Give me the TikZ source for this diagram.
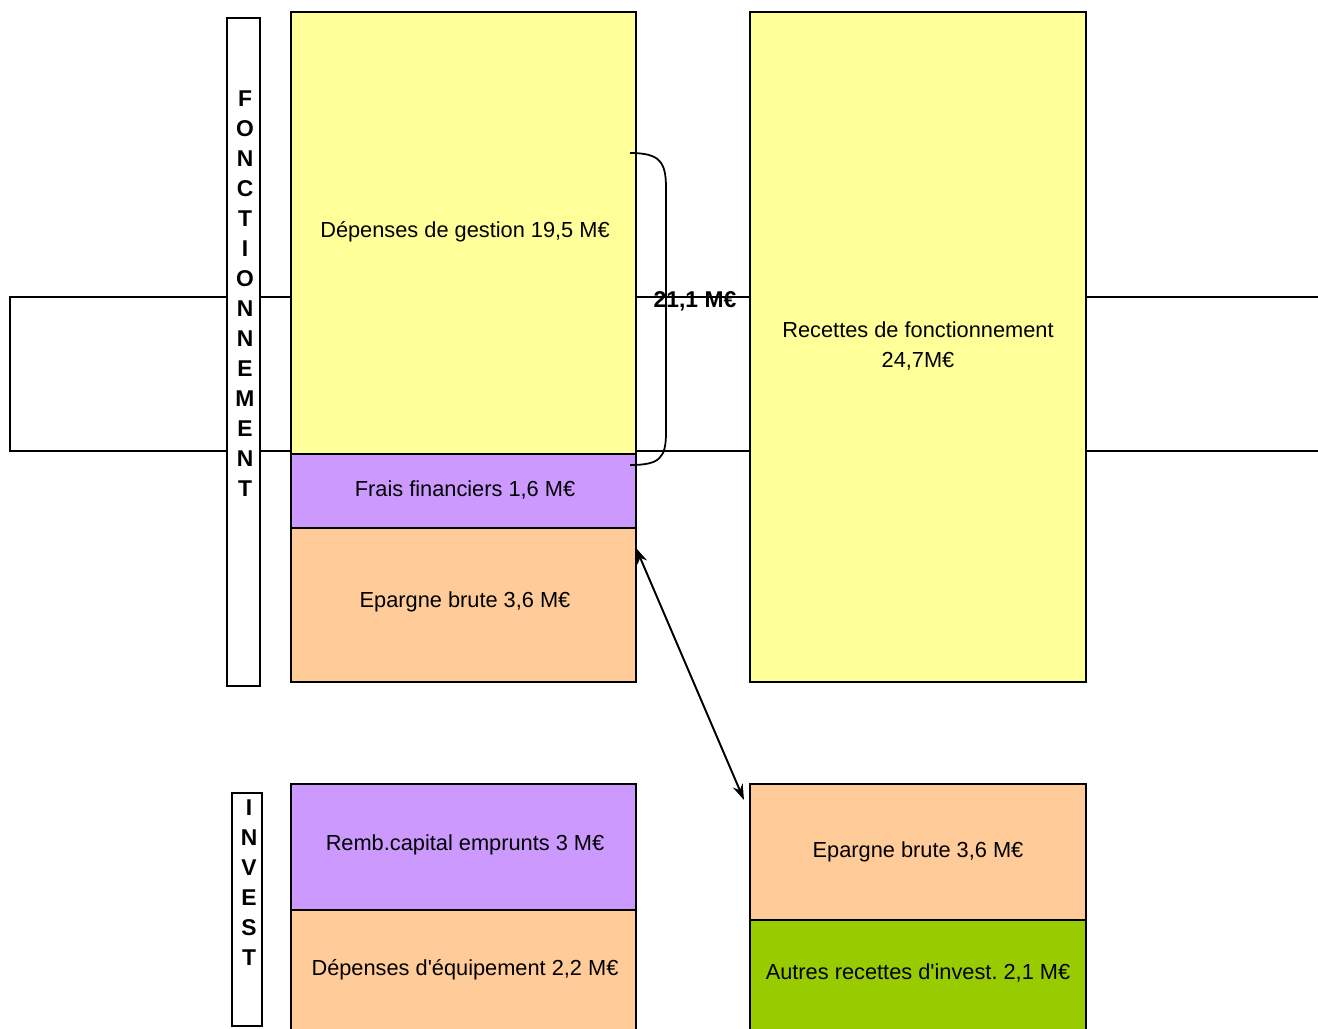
\documentclass[tikz,border=0pt]{standalone}
\usepackage{fontspec}
\setmainfont{Liberation Sans}
\usepackage{tikz}
\usetikzlibrary{fit,arrows.meta}
\definecolor{jaune}{HTML}{FFFF99}
\definecolor{mauve}{HTML}{CC99FF}
\definecolor{saumon}{HTML}{FFCC99}
\definecolor{vert}{HTML}{99CC00}

\begin{document}
\begin{tikzpicture}[x=0.02cm,y=-0.02cm,font=\fontsize{12.4}{17}\selectfont,
    bloc/.style={draw=black,line width=1.6pt,inner sep=0pt,align=center},
    titre/.style={draw=black,fill=white,line width=0.9pt,inner sep=0pt},
    lettre/.style={font=\fontsize{13}{14}\selectfont\bfseries}]
                    \useasboundingbox (0,0) rectangle (1318,1028);
                    % cadre de fond
                    \draw[line width=1.2pt] (1340,297) -- (10,297) -- (10,451) -- (1340,451);
                    % bandeaux verticaux
                    \node[titre,fit={(227,18) (260,686)}] (fonct) {};
                    \node[titre,fit={(232,793) (262,1026)}] (invest) {};
                    \foreach \l [count=\i] in {F,O,N,C,T,I,O,N,N,E,M,E,N,T}{
                    \node[lettre] (f\i) at (245,{99+30*(\i-1)}) {\l};
                    }
                    \foreach \l [count=\i] in {I,N,V,E,S,T}{
                    \node[lettre] (v\i) at (249,{808+30*(\i-1)}) {\l};
                    }
                    % fonctionnement
                    \node[bloc,fill=jaune,fit={(291,12) (636,454)}] (gestion) {};
                    \node (tgestion) at (465,232) {Dépenses de gestion 19,5 M€};
                    \node[bloc,fill=mauve,fit={(291,454) (636,528)}] (frais) {};
                    \node (tfrais) at (465,490) {Frais financiers 1,6 M€};
                    \node[bloc,fill=saumon,fit={(291,528) (636,682)}] (epargne) {};
                    \node (tepargne) at (465,602) {Epargne brute 3,6 M€};
                    \node[bloc,fill=jaune,fit={(750,12) (1086,682)}] (recettes) {};
                    \node[align=center] (trecettes) at (918,346) {Recettes de fonctionnement\\24,7M€};
                    % investissement
                    \node[bloc,fill=mauve,fit={(291,784) (636,910)}] (remb) {};
                    \node (tremb) at (465,845) {Remb.capital emprunts 3 M€};
                    \node[bloc,fill=saumon,fit={(291,910) (636,1045)}] (equip) {};
                    \node (tequip) at (465,970) {Dépenses d\textquotesingle équipement 2,2 M€};
                    \node[bloc,fill=saumon,fit={(750,784) (1086,920)}] (epargneb) {};
                    \node (tepargneb) at (918,852) {Epargne brute 3,6 M€};
                    \node[bloc,fill=vert,fit={(750,920) (1086,1045)}] (autres) {};
                    \node (tautres) at (918,973) {Autres recettes d\textquotesingle invest.\ 2,1 M€};
                    % accolade
                    \coordinate (acc1) at (630,153);
                    \coordinate (acc2) at (630,465);
                    \draw[line width=1pt] (acc1) .. controls (660,153) and (666,162) .. (666,188) -- (666,432) .. controls (666,458) and (660,465) .. (acc2);
                    \node[font=\fontsize{13}{14}\selectfont\bfseries] (total) at (695,301) {21,1 M€};
                    % fleche
                    \coordinate (fl1) at (636,548);
                    \coordinate (fl2) at (744,800);
                    \draw[{Stealth[length=9pt,width=6pt]}-{Stealth[length=9pt,width=6pt]},line width=1.1pt] (fl1) -- (fl2);
                    \end{tikzpicture}
\end{document}
